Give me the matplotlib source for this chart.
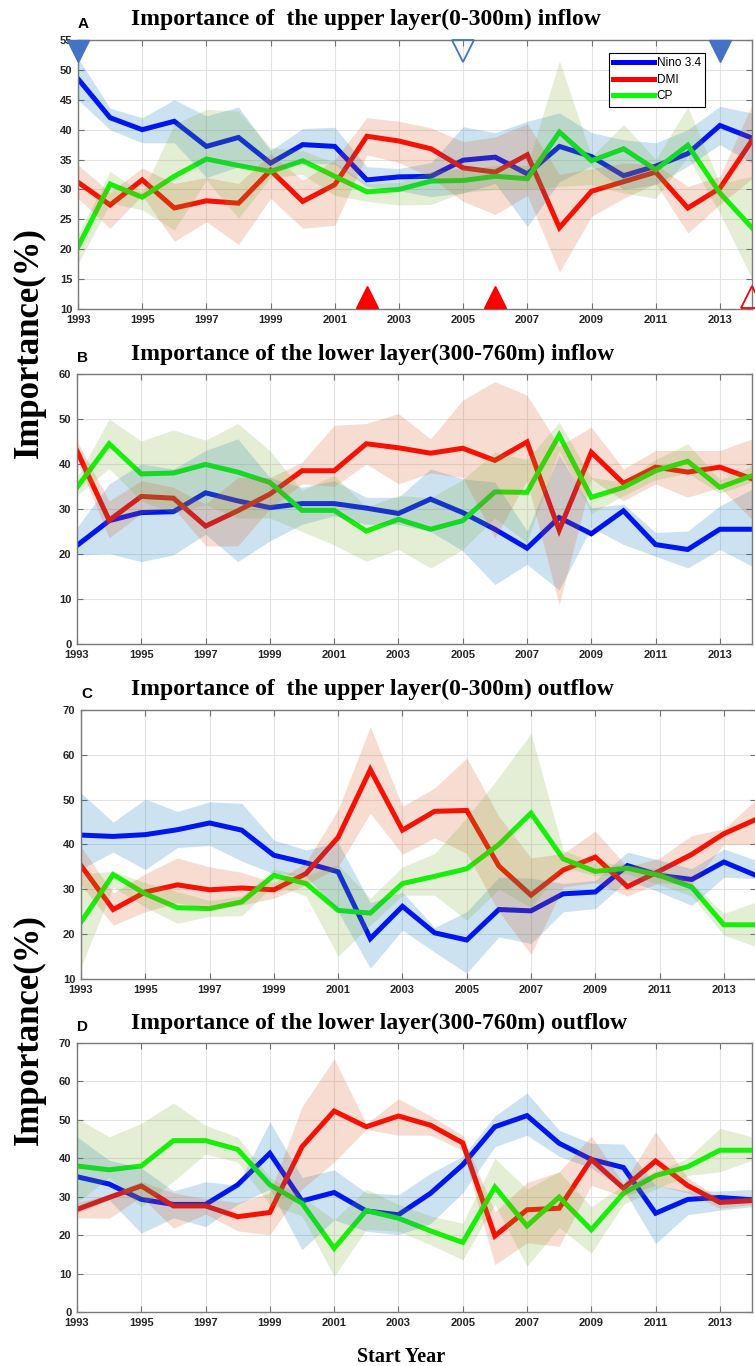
import numpy as np
import matplotlib
matplotlib.use("Agg")
import matplotlib.pyplot as plt
import matplotlib.transforms as mtransforms

plt.rcParams["font.family"] = ["Liberation Sans", "DejaVu Sans"]

# ---- data ----
years = [1993, 1994, 1995, 1996, 1997, 1998, 1999, 2000, 2001, 2002, 2003,
         2004, 2005, 2006, 2007, 2008, 2009, 2010, 2011, 2012, 2013, 2014]
year_ticks = [1993, 1995, 1997, 1999, 2001, 2003, 2005, 2007, 2009, 2011, 2013]
series_names = ["Nino 3.4", "DMI", "CP"]

# A: upper layer inflow
a_nino = [48.5, 42.0, 40.0, 41.4, 37.2, 38.7, 34.4, 37.5, 37.2, 31.6, 32.1,
          32.2, 34.9, 35.4, 32.6, 37.2, 35.5, 32.3, 33.9, 36.0, 40.7, 38.6]
a_nino_lo = [45.0, 40.0, 37.8, 37.8, 32.0, 33.8, 33.0, 34.5, 34.2, 30.5, 29.8,
             28.8, 29.4, 31.0, 23.8, 31.3, 33.9, 30.0, 30.8, 33.9, 37.5, 34.4]
a_nino_hi = [52.0, 43.6, 42.0, 45.0, 42.3, 43.8, 36.5, 40.2, 40.4, 33.8, 33.5,
             34.5, 40.5, 39.5, 41.4, 42.8, 39.5, 38.3, 37.8, 40.0, 43.9, 42.8]
a_dmi = [31.2, 27.4, 31.6, 26.9, 28.1, 27.7, 33.2, 28.0, 30.8, 38.9, 38.1,
         36.8, 33.6, 32.9, 35.8, 23.6, 29.7, 31.3, 32.9, 26.9, 30.2, 38.2]
a_dmi_lo = [28.5, 23.5, 29.0, 21.3, 24.6, 20.8, 28.5, 23.5, 24.0, 35.8, 34.5,
            32.0, 28.0, 25.8, 29.0, 16.2, 25.5, 28.5, 31.0, 22.7, 27.5, 31.8]
a_dmi_hi = [34.1, 29.5, 33.6, 31.0, 32.0, 31.0, 36.0, 31.5, 35.0, 42.0, 41.4,
            40.3, 38.0, 38.8, 41.0, 32.5, 33.5, 34.4, 34.2, 30.5, 32.2, 44.2]
a_cp = [20.4, 30.9, 28.7, 32.2, 35.1, 34.0, 33.0, 34.8, 32.2, 29.6, 30.0,
        31.4, 31.5, 32.2, 31.8, 39.6, 34.8, 36.8, 33.3, 37.4, 29.4, 23.6]
a_cp_lo = [17.6, 27.7, 26.6, 23.2, 31.6, 25.2, 32.0, 32.5, 29.0, 28.0, 27.4,
           27.5, 29.5, 30.0, 30.0, 30.5, 30.8, 29.4, 28.5, 35.5, 26.0, 15.1]
a_cp_hi = [22.5, 33.0, 29.5, 40.9, 43.4, 43.1, 37.0, 36.5, 34.5, 31.0, 31.2,
           33.0, 33.5, 34.0, 34.0, 51.5, 35.5, 40.9, 35.0, 43.8, 31.0, 32.2]

# years flagged with triangles in panel A
nino_flag_filled = [1993, 2013]
nino_flag_open = [2005]
dmi_flag_filled = [2002, 2006]
dmi_flag_open = [2014]

# B: lower layer inflow
b_nino = [21.9, 27.4, 29.2, 29.4, 33.6, 31.8, 30.3, 31.2, 31.2, 30.2, 29.0,
          32.2, 29.2, 25.5, 21.3, 28.1, 24.5, 29.6, 22.1, 21.0, 25.5, 25.5]
b_nino_lo = [19.8, 20.1, 18.3, 19.8, 24.4, 18.3, 22.9, 26.6, 28.5, 26.6, 26.6,
             25.0, 20.7, 13.2, 17.7, 12.0, 25.9, 22.1, 19.5, 16.9, 21.0, 17.3]
b_nino_hi = [25.9, 35.6, 40.0, 38.9, 43.0, 45.6, 37.0, 34.8, 36.3, 32.6, 32.6,
             38.9, 36.7, 36.0, 25.1, 42.0, 30.3, 31.1, 24.8, 25.1, 30.7, 34.4]
b_dmi = [42.9, 27.5, 32.8, 32.4, 26.2, 29.6, 33.3, 38.5, 38.5, 44.5, 43.6,
         42.4, 43.5, 40.8, 44.9, 25.3, 42.6, 35.7, 39.3, 38.2, 39.3, 36.7]
b_dmi_lo = [41.0, 23.6, 29.0, 30.3, 21.8, 21.8, 30.0, 35.6, 35.0, 40.0, 35.6,
            38.0, 37.0, 23.6, 36.3, 8.7, 36.7, 31.8, 35.6, 32.6, 34.8, 27.7]
b_dmi_hi = [45.1, 31.8, 36.3, 34.8, 31.1, 37.0, 37.0, 40.4, 48.6, 49.0, 51.2,
            45.6, 54.2, 58.3, 55.3, 44.0, 48.2, 38.9, 43.0, 43.0, 43.0, 45.6]
b_cp = [34.8, 44.5, 37.8, 38.0, 39.9, 38.2, 35.9, 29.7, 29.7, 25.1, 27.7,
        25.5, 27.4, 33.8, 33.7, 46.4, 32.6, 34.8, 38.5, 40.6, 34.8, 37.4]
b_cp_lo = [33.0, 39.0, 31.8, 29.0, 31.0, 28.0, 28.0, 25.0, 22.0, 18.4, 21.0,
           16.9, 21.0, 28.0, 22.5, 43.0, 29.0, 33.0, 36.5, 38.0, 33.5, 36.0]
b_cp_hi = [37.0, 50.0, 45.1, 47.6, 45.3, 49.0, 43.0, 34.1, 37.5, 30.5, 33.0,
           32.5, 36.5, 42.6, 41.0, 49.3, 37.0, 36.0, 41.0, 44.5, 36.5, 39.5]

# C: upper layer outflow
c_nino = [42.1, 41.8, 42.2, 43.3, 44.8, 43.2, 37.6, 35.9, 33.9, 19.0, 26.2,
          20.3, 18.7, 25.5, 25.2, 29.0, 29.4, 35.3, 33.1, 32.2, 36.1, 33.1]
c_nino_lo = [34.5, 38.3, 34.4, 39.3, 39.8, 36.3, 33.5, 33.0, 25.0, 12.4, 20.9,
             16.0, 11.3, 19.4, 17.9, 25.0, 25.7, 32.0, 29.4, 26.4, 32.7, 32.4]
c_nino_hi = [51.5, 45.0, 50.1, 47.4, 49.5, 49.2, 41.0, 38.8, 40.4, 27.0, 29.4,
             21.5, 25.0, 32.7, 32.5, 31.3, 32.0, 38.3, 36.5, 34.6, 39.0, 36.5]
c_dmi = [35.3, 25.5, 29.4, 31.0, 29.9, 30.3, 29.9, 33.5, 41.6, 56.7, 43.2,
         47.4, 47.6, 35.2, 28.7, 34.3, 37.2, 30.6, 34.1, 37.8, 42.4, 45.6]
c_dmi_lo = [31.0, 22.0, 25.0, 27.0, 25.5, 26.5, 28.0, 31.0, 35.0, 47.0, 37.8,
            41.5, 38.0, 25.0, 15.5, 30.5, 31.5, 28.5, 31.5, 31.0, 40.0, 40.0]
c_dmi_hi = [39.5, 29.2, 33.5, 37.0, 35.0, 33.8, 31.5, 36.0, 47.8, 66.3, 48.5,
            52.6, 59.3, 46.3, 37.0, 38.0, 43.0, 35.0, 37.0, 42.0, 43.5, 50.0]
c_cp = [22.7, 33.3, 29.0, 25.9, 25.7, 27.2, 33.1, 31.3, 25.3, 24.7, 31.3,
        32.9, 34.6, 40.0, 47.0, 36.8, 34.0, 34.7, 33.1, 30.5, 22.1, 22.1]
c_cp_lo = [12.7, 30.5, 26.0, 22.4, 24.0, 24.1, 31.0, 28.5, 15.1, 22.0, 28.7,
           28.7, 23.1, 30.0, 26.0, 35.0, 33.0, 33.5, 31.0, 28.5, 19.8, 17.2]
c_cp_hi = [33.5, 34.0, 31.5, 29.5, 27.5, 28.5, 34.5, 33.0, 35.5, 28.0, 35.0,
           38.0, 46.0, 55.0, 64.8, 38.7, 36.0, 35.5, 34.5, 31.5, 24.6, 27.2]

# D: lower layer outflow
d_nino = [35.2, 33.3, 29.3, 28.0, 28.0, 33.1, 41.3, 28.9, 31.1, 26.3, 25.3,
          30.9, 38.3, 48.2, 51.1, 43.9, 39.7, 37.6, 25.7, 29.3, 29.8, 29.2]
d_nino_lo = [25.7, 29.2, 20.5, 24.5, 22.2, 28.0, 32.0, 16.2, 24.0, 21.0, 20.1,
             23.0, 31.0, 43.0, 46.0, 40.5, 37.5, 32.0, 17.8, 25.3, 26.5, 27.4]
d_nino_hi = [45.6, 39.5, 37.5, 31.5, 33.9, 33.0, 49.5, 35.0, 37.0, 31.0, 30.5,
             36.1, 40.5, 51.0, 57.0, 47.3, 43.9, 43.7, 33.0, 31.5, 31.5, 31.9]
d_dmi = [26.7, 29.8, 32.8, 27.6, 27.6, 24.8, 25.9, 43.0, 52.3, 48.2, 51.0,
         48.6, 44.0, 19.8, 26.6, 27.0, 39.7, 32.2, 39.3, 32.9, 28.5, 29.0]
d_dmi_lo = [24.5, 24.4, 30.0, 21.8, 25.5, 21.1, 20.1, 32.0, 39.0, 47.5, 46.0,
            46.0, 42.0, 12.3, 18.0, 17.1, 33.0, 30.0, 33.0, 31.0, 27.0, 28.0]
d_dmi_hi = [28.5, 30.5, 34.0, 31.0, 29.5, 28.5, 31.0, 53.4, 65.9, 49.0, 55.5,
            51.0, 46.0, 26.0, 33.7, 36.5, 45.8, 33.5, 46.9, 35.0, 29.5, 30.0]
d_cp = [38.0, 37.0, 38.0, 44.6, 44.6, 42.3, 33.1, 28.3, 16.6, 26.4, 24.4,
        21.1, 18.1, 32.5, 22.4, 29.9, 21.4, 30.9, 35.5, 37.8, 42.1, 42.1]
d_cp_lo = [28.5, 35.0, 27.4, 34.0, 41.1, 39.0, 28.0, 25.0, 9.3, 21.5, 21.0,
           17.5, 13.6, 28.0, 11.9, 22.0, 15.3, 28.0, 32.0, 35.5, 36.5, 39.5]
d_cp_hi = [50.4, 45.6, 49.1, 54.4, 48.6, 45.5, 35.0, 30.0, 24.0, 32.0, 28.0,
           25.0, 23.1, 40.0, 32.0, 36.5, 27.4, 33.0, 36.5, 40.0, 47.8, 45.6]

# ---- style ----
W, H = 755, 1366
line_colors = ["#0000FF", "#FF0000", "#00FF00"]
band_colors = ["#0072BD", "#D95319", "#77AC30"]
flag_blue = "#4472C4"
flag_red = "#FF0000"
serif = ["Liberation Serif", "DejaVu Serif"]

panels = [
    dict(letter="A", title="Importance of  the upper layer(0-300m) inflow",
         data=[(a_nino, a_nino_lo, a_nino_hi), (a_dmi, a_dmi_lo, a_dmi_hi),
               (a_cp, a_cp_lo, a_cp_hi)],
         ylim=(10, 55), ystep=5, box=(78, 40, 752, 309)),
    dict(letter="B", title="Importance of the lower layer(300-760m) inflow",
         data=[(b_nino, b_nino_lo, b_nino_hi), (b_dmi, b_dmi_lo, b_dmi_hi),
               (b_cp, b_cp_lo, b_cp_hi)],
         ylim=(0, 60), ystep=10, box=(77, 374, 752, 644)),
    dict(letter="C", title="Importance of  the upper layer(0-300m) outflow",
         data=[(c_nino, c_nino_lo, c_nino_hi), (c_dmi, c_dmi_lo, c_dmi_hi),
               (c_cp, c_cp_lo, c_cp_hi)],
         ylim=(10, 70), ystep=10, box=(81, 710, 756, 979)),
    dict(letter="D", title="Importance of the lower layer(300-760m) outflow",
         data=[(d_nino, d_nino_lo, d_nino_hi), (d_dmi, d_dmi_lo, d_dmi_hi),
               (d_cp, d_cp_lo, d_cp_hi)],
         ylim=(0, 70), ystep=10, box=(77, 1043, 752, 1312)),
]

fig = plt.figure(figsize=(W / 100, H / 100), dpi=100)

axes = []
for p in panels:
    l, t, r, b = p["box"]
    ax = fig.add_axes([l / W, 1 - b / H, (r - l) / W, (b - t) / H])
    axes.append(ax)

    handles = []
    # lines first, shaded ranges on top (as in the original)
    for (vals, lo, hi), lc, bc, name in zip(p["data"], line_colors, band_colors, series_names):
        h, = ax.plot(years, vals, color=lc, lw=3.6, solid_joinstyle="miter", zorder=2, label=name)
        handles.append(h)
    for (vals, lo, hi), bc in zip(p["data"], band_colors):
        ax.fill_between(years, lo, hi, color=bc, alpha=0.2, lw=0, zorder=3)

    ax.set_xlim(1993, 2014)
    ax.set_ylim(*p["ylim"])
    ax.set_xticks(year_ticks)
    ax.set_yticks(np.arange(p["ylim"][0], p["ylim"][1] + 1, p["ystep"]))
    ax.grid(True, color="#e3e3e3", lw=0.8, zorder=0)
    ax.set_axisbelow(True)
    ax.tick_params(direction="in", top=True, right=True, length=4, width=0.8,
                   color="#707070", labelcolor="#262626", labelsize=8, pad=4)
    plt.setp(ax.get_xticklabels() + ax.get_yticklabels(), fontweight="bold")
    for s in ax.spines.values():
        s.set_color("#7a7a7a")
        s.set_linewidth(1.0)

    # panel title and letter
    ax.text((131 - l) / (r - l), 1 + 14.5 / (b - t), p["title"], transform=ax.transAxes,
            ha="left", va="baseline", fontsize=17, fontweight="bold", family=serif)
    ax.text(0.0, 1 + 12 / (b - t), p["letter"], transform=ax.transAxes,
            ha="left", va="baseline", fontsize=11, fontweight="bold")

    if p["letter"] == "A":
        leg = ax.legend(handles=handles, loc="upper right", bbox_to_anchor=(0.93, 0.952),
                        borderaxespad=0, fontsize=8.5, handlelength=3.5, handletextpad=0.2,
                        borderpad=0.35, labelspacing=0.4, fancybox=False, framealpha=1,
                        edgecolor="black")
        leg.get_frame().set_linewidth(0.8)
        leg.set_zorder(10)

        # significance triangles along the top / bottom edges
        trans = mtransforms.blended_transform_factory(ax.transData, ax.transAxes)
        ax.plot(nino_flag_filled, [0.958] * len(nino_flag_filled), "v", ms=16.5,
                color=flag_blue, mec=flag_blue, transform=trans, clip_on=False, zorder=6)
        ax.plot(nino_flag_open, [0.958] * len(nino_flag_open), "v", ms=16.5,
                mfc="none", mec=flag_blue, mew=1.3, transform=trans, clip_on=False, zorder=6)
        ax.plot(dmi_flag_filled, [0.046] * len(dmi_flag_filled), "^", ms=16.5,
                color=flag_red, mec=flag_red, transform=trans, clip_on=False, zorder=6)
        ax.plot(dmi_flag_open, [0.046] * len(dmi_flag_open), "^", ms=16.5,
                mfc="none", mec=flag_red, mew=1.3, transform=trans, clip_on=False, zorder=6)

# shared labels
for yc in (343, 1030):
    fig.text(29 / W, 1 - yc / H, "Importance(%)", rotation=90, ha="center", va="center",
             fontsize=25, fontweight="bold", family=serif)
fig.text(401 / W, 1 - 1357 / H, "Start Year", ha="center", va="center",
         fontsize=14.5, fontweight="bold", family=serif)

fig.savefig("out.png", dpi=100)
